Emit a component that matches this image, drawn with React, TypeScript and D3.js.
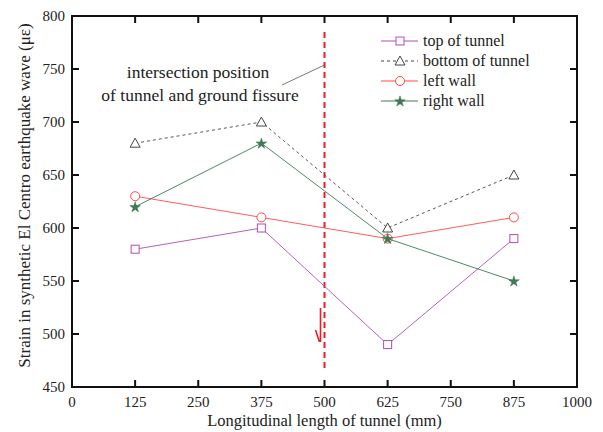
import React, { useEffect, useRef } from "react";
import * as d3 from "d3";

const positions = [125, 375, 625, 875];
const topOfTunnel = [580, 600, 490, 590];
const bottomOfTunnel = [680, 700, 600, 650];
const leftWall = [630, 610, 590, 610];
const rightWall = [620, 680, 590, 550];
const xTicks = [0, 125, 250, 375, 500, 625, 750, 875, 1000];
const yTicks = [450, 500, 550, 600, 650, 700, 750, 800];
const fissureX = 500;

const series = [
  { name: "top of tunnel", values: topOfTunnel, color: "#b04cb8", dash: null, marker: "square" },
  { name: "bottom of tunnel", values: bottomOfTunnel, color: "#444", dash: "3,3", marker: "triangle" },
  { name: "left wall", values: leftWall, color: "#ff4848", dash: null, marker: "circle" },
  { name: "right wall", values: rightWall, color: "#3f7a55", dash: null, marker: "star" },
];

const W = 603;
const H = 432;
const font = "Times New Roman, Liberation Serif, DejaVu Serif, serif";

export default function App() {
  const ref = useRef<SVGSVGElement>(null);

  useEffect(() => {
    const svg = d3.select(ref.current);
    svg.selectAll("*").remove();

    const x = d3.scaleLinear().domain([0, 1000]).range([72, 577]);
    const y = d3.scaleLinear().domain([450, 800]).range([387, 16]);

    const g = svg.append("g").style("font-family", font);

    const drawMarker = (sel: any, kind: string, color: string, cx: number, cy: number) => {
      if (kind === "square") {
        sel.append("rect").attr("x", cx - 4).attr("y", cy - 4).attr("width", 8).attr("height", 8)
          .attr("fill", "white").attr("stroke", color).attr("stroke-width", 1);
      } else if (kind === "triangle") {
        sel.append("path").attr("d", `M${cx},${cy - 5}L${cx + 5},${cy + 4}L${cx - 5},${cy + 4}Z`)
          .attr("fill", "white").attr("stroke", color).attr("stroke-width", 1);
      } else if (kind === "circle") {
        sel.append("circle").attr("cx", cx).attr("cy", cy).attr("r", 4.5)
          .attr("fill", "white").attr("stroke", color).attr("stroke-width", 1);
      } else {
        sel.append("path").attr("d", d3.symbol(d3.symbolStar, 36)() as string)
          .attr("transform", `translate(${cx},${cy + 0.5})`)
          .attr("fill", color).attr("stroke", color).attr("stroke-width", 0.5);
      }
    };

    // fissure line
    g.append("line").attr("x1", x(fissureX)).attr("x2", x(fissureX)).attr("y1", 32).attr("y2", 368)
      .attr("stroke", "#ee1c25").attr("stroke-width", 2).attr("stroke-dasharray", "6,4");

    // red arrow glyph
    g.append("path").attr("d", `M${x(fissureX) - 4},308 L${x(fissureX) - 4},342 M${x(fissureX) - 9},330 L${x(fissureX) - 5},342`)
      .attr("fill", "none").attr("stroke", "#ee1c25").attr("stroke-width", 1.6);

    // annotation
    g.append("text").attr("x", 198).attr("y", 78).attr("text-anchor", "middle")
      .attr("font-size", 17.5).attr("fill", "#222").text("intersection position");
    g.append("text").attr("x", 200).attr("y", 101).attr("text-anchor", "middle")
      .attr("font-size", 17.5).attr("fill", "#222").text("of tunnel and ground fissure");
    g.append("line").attr("x1", 282).attr("y1", 85).attr("x2", x(fissureX)).attr("y2", 65)
      .attr("stroke", "#555").attr("stroke-width", 0.8);

    const line = d3.line<number>().x((_, i) => x(positions[i])).y(d => y(d));

    series.forEach(s => {
      g.append("path").attr("d", line(s.values) as string).attr("fill", "none")
        .attr("stroke", s.color).attr("stroke-width", 0.9)
        .attr("stroke-dasharray", s.dash);
      s.values.forEach((v, i) => drawMarker(g, s.marker, s.color, x(positions[i]), y(v)));
    });

    // legend
    series.forEach((s, i) => {
      const ly = 41 + i * 20;
      g.append("line").attr("x1", 381).attr("x2", 418).attr("y1", ly).attr("y2", ly)
        .attr("stroke", s.color).attr("stroke-width", 1).attr("stroke-dasharray", s.dash);
      drawMarker(g, s.marker, s.color, 400, ly);
      g.append("text").attr("x", 423).attr("y", ly + 5)
        .attr("font-size", 16).attr("fill", "#222").text(s.name);
    });

    // frame and ticks
    const [x0, x1] = x.range();
    const [y0, y1] = y.range();
    g.append("rect").attr("x", x0).attr("y", y1).attr("width", x1 - x0).attr("height", y0 - y1)
      .attr("fill", "none").attr("stroke", "#111").attr("stroke-width", 2);

    xTicks.slice(1, -1).forEach(t => {
      g.append("line").attr("x1", x(t)).attr("x2", x(t)).attr("y1", y0).attr("y2", y0 - 7)
        .attr("stroke", "#111").attr("stroke-width", 2);
      g.append("line").attr("x1", x(t)).attr("x2", x(t)).attr("y1", y1).attr("y2", y1 + 7)
        .attr("stroke", "#111").attr("stroke-width", 2);
    });
    xTicks.forEach(t => {
      g.append("text").attr("x", x(t)).attr("y", y0 + 20).attr("text-anchor", "middle")
        .attr("font-size", 15).attr("fill", "#222").text(t);
    });
    yTicks.slice(1, -1).forEach(t => {
      g.append("line").attr("x1", x0).attr("x2", x0 + 7).attr("y1", y(t)).attr("y2", y(t))
        .attr("stroke", "#111").attr("stroke-width", 2);
      g.append("line").attr("x1", x1).attr("x2", x1 - 7).attr("y1", y(t)).attr("y2", y(t))
        .attr("stroke", "#111").attr("stroke-width", 2);
    });
    yTicks.forEach(t => {
      g.append("text").attr("x", x0 - 7).attr("y", y(t) + 5).attr("text-anchor", "end")
        .attr("font-size", 15).attr("fill", "#222").text(t);
    });

    g.append("text").attr("x", (x0 + x1) / 2).attr("y", 426).attr("text-anchor", "middle")
      .attr("font-size", 16.5).attr("fill", "#222")
      .text("Longitudinal length of tunnel (mm)");
    g.append("text").attr("transform", `translate(30,195.5) rotate(-90)`)
      .attr("text-anchor", "middle").attr("font-size", 17).attr("fill", "#222")
      .text("Strain in synthetic El Centro earthquake wave (\u03bc\u03b5)");
  }, []);

  return (
    <svg ref={ref} width={W} height={H} style={{ position: "absolute", left: 0, top: 0, background: "white" }} />
  );
}
